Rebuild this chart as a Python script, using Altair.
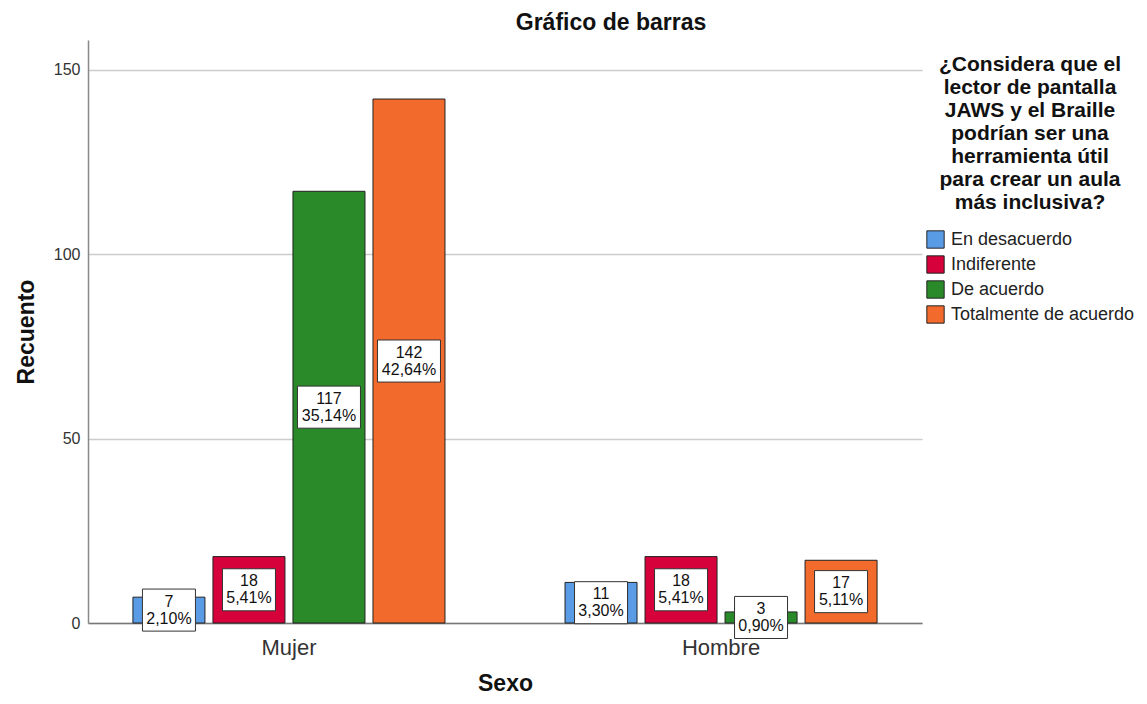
import altair as alt
import pandas as pd

sexo = ["Mujer", "Mujer", "Mujer", "Mujer", "Hombre", "Hombre", "Hombre", "Hombre"]
categoria = ["En desacuerdo", "Indiferente", "De acuerdo", "Totalmente de acuerdo"] * 2
recuento = [7, 18, 117, 142, 11, 18, 3, 17]
porcentaje = ["2,10%", "5,41%", "35,14%", "42,64%", "3,30%", "5,41%", "0,90%", "5,11%"]

cat_order = ["En desacuerdo", "Indiferente", "De acuerdo", "Totalmente de acuerdo"]
colores = ["#5a9be6", "#d6003a", "#2a8a2a", "#f26a2c"]
sexo_order = ["Mujer", "Hombre"]

df = pd.DataFrame({
    "Sexo": sexo,
    "Categoria": categoria,
    "Recuento": recuento,
    "Porcentaje": porcentaje,
})
df["Etiqueta"] = df["Recuento"].astype(str) + "\n" + df["Porcentaje"]
df["Largo"] = df["Porcentaje"].str.len()

FONT = "Liberation Sans"
BOX_H = 5.7  # half box height in data units

x_enc = alt.X("Sexo:N", sort=sexo_order,
              scale=alt.Scale(paddingInner=0.2778, paddingOuter=0.104),
              axis=alt.Axis(title="Sexo", labelAngle=0, labelFontSize=22, labelColor="#333333",
                            labelFont=FONT, labelPadding=14, ticks=False,
                            titleFont=FONT, titleFontSize=23, titleFontWeight="bold",
                            titleColor="#111111", titlePadding=14,
                            domainColor="#777777", domainWidth=1.5))
xo_enc = alt.XOffset("Categoria:N", sort=cat_order,
                     scale=alt.Scale(paddingInner=0.1, paddingOuter=0))

y_scale = alt.Scale(domain=[0, 158], nice=False)

legend_title = ["¿Considera que el", "lector de pantalla", "JAWS y el Braille",
                "podrían ser una", "herramienta útil", "para crear un aula",
                "más inclusiva?"]

bars = alt.Chart(df).mark_bar(stroke="#222222", strokeWidth=1).encode(
    x=x_enc,
    xOffset=xo_enc,
    y=alt.Y("Recuento:Q", scale=y_scale,
            axis=alt.Axis(title="Recuento", values=[0, 50, 100, 150], labelFontSize=16,
                          labelFont=FONT, labelColor="#333333", labelPadding=8, ticks=False,
                          grid=True, gridColor="#cccccc", gridWidth=1.5,
                          domainColor="#888888", domainWidth=1.5,
                          titleFont=FONT, titleFontSize=23, titleFontWeight="bold",
                          titleColor="#111111", titlePadding=15)),
    color=alt.Color("Categoria:N", sort=cat_order,
                    scale=alt.Scale(domain=cat_order, range=colores),
                    legend=alt.Legend(title=legend_title, orient="none", legendX=838, legendY=14,
                                      titleFont=FONT, titleFontSize=21, titleFontWeight="bold",
                                      titleColor="#111111", titleAlign="center", titleAnchor="middle",
                                      titleLineHeight=23, titlePadding=17, titleLimit=400,
                                      labelFont=FONT, labelFontSize=18, labelColor="#222222",
                                      labelLimit=400,
                                      symbolType="square", symbolSize=300, symbolStrokeColor="#222222",
                                      symbolStrokeWidth=1, rowPadding=2, labelOffset=6, padding=0)),
)

def box_layer(largo, ancho):
    return alt.Chart(df).transform_filter(
        alt.datum.Largo == largo
    ).transform_calculate(
        y1=f"datum.Recuento/2 - {BOX_H}", y2=f"datum.Recuento/2 + {BOX_H}"
    ).mark_bar(width=ancho, fill="white", stroke="#333333", strokeWidth=1).encode(
        x=alt.X("Sexo:N", sort=sexo_order),
        xOffset=alt.XOffset("Categoria:N", sort=cat_order),
        y=alt.Y("y1:Q", scale=y_scale),
        y2="y2:Q",
    )

boxes5 = box_layer(5, 53)
boxes6 = box_layer(6, 63)

texts = alt.Chart(df).transform_calculate(
    ymid="datum.Recuento/2"
).mark_text(font=FONT, fontSize=16, lineBreak="\n", lineHeight=17, baseline="middle",
            align="center", color="#111111", dy=-8.5).encode(
    x=alt.X("Sexo:N", sort=sexo_order),
    xOffset=alt.XOffset("Categoria:N", sort=cat_order),
    y=alt.Y("ymid:Q", scale=y_scale),
    text="Etiqueta:N",
)

chart = alt.layer(bars, boxes5, boxes6, texts).properties(
    width=834, height=583,
    title=alt.TitleParams("Gráfico de barras", font=FONT, fontSize=23, fontWeight="bold",
                          color="#111111", anchor="middle", dx=106, offset=5),
    autosize=alt.AutoSizeParams(type="none"),
    padding={"left": 80, "top": 32, "right": 217, "bottom": 73},
).configure(background="white").configure_view(stroke=None)

chart.save("out.html", embed_options={"renderer": "svg", "actions": False})
